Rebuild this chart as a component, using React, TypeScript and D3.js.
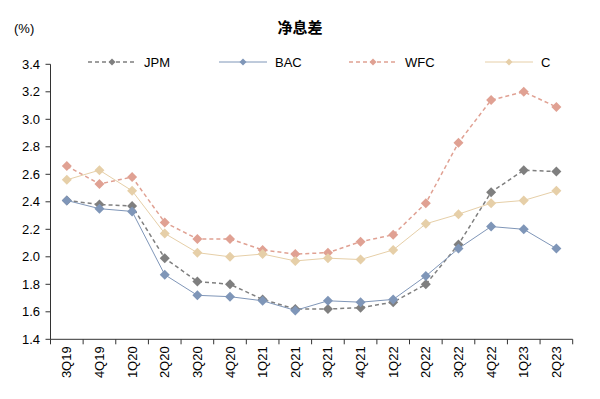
import React from "react";
import * as d3 from "d3";

const categories = ["3Q19","4Q19","1Q20","2Q20","3Q20","4Q20","1Q21","2Q21","3Q21","4Q21","1Q22","2Q22","3Q22","4Q22","1Q23","2Q23"];
const jpm = [2.41,2.38,2.37,1.99,1.82,1.80,1.69,1.62,1.62,1.63,1.67,1.80,2.09,2.47,2.63,2.62];
const bac = [2.41,2.35,2.33,1.87,1.72,1.71,1.68,1.61,1.68,1.67,1.69,1.86,2.06,2.22,2.20,2.06];
const wfc = [2.66,2.53,2.58,2.25,2.13,2.13,2.05,2.02,2.03,2.11,2.16,2.39,2.83,3.14,3.20,3.09];
const citi = [2.56,2.63,2.48,2.17,2.03,2.00,2.02,1.97,1.99,1.98,2.05,2.24,2.31,2.39,2.41,2.48];
const yTicks = [1.4,1.6,1.8,2.0,2.2,2.4,2.6,2.8,3.0,3.2,3.4];

const series = [
  { name: "JPM", values: jpm, color: "#7f7f7f", dash: "4,3", width: 1.5 },
  { name: "BAC", values: bac, color: "#7f96b8", dash: null, width: 1 },
  { name: "WFC", values: wfc, color: "#e0a193", dash: "4,3", width: 1.5 },
  { name: "C", values: citi, color: "#e6cfa8", dash: null, width: 1 },
];
const legendX = [88, 219, 349, 485];

const W = 600, H = 399;
const left = 50.5, right = 572.7, top = 64.3, bottom = 339.3;

export default function App() {
  const x = d3.scaleBand().domain(categories).range([left, right]);
  const y = d3.scaleLinear().domain([1.4, 3.4]).range([bottom, top]);
  const font = "'Liberation Sans', Arial, sans-serif";
  const line = d3.line<number>().x((_, i) => x(categories[i])! + x.bandwidth() / 2).y(d => y(d));
  const diamond = (cx: number, cy: number, r = 5) => `M${cx},${cy - r}L${cx + r},${cy}L${cx},${cy + r}L${cx - r},${cy}Z`;
  const boundaries = categories.map(c => x(c)!).concat([right]);
  return (
    <svg width={W} height={H} style={{ position: "absolute", left: 0, top: 0 }} fontFamily={font}>
      <rect width={W} height={H} fill="#fff" />
      <text x={300} y={33} textAnchor="middle" fontSize={15} fontWeight="bold" fontFamily="'Noto Sans CJK SC', sans-serif">净息差</text>
      <text x={14} y={33} fontSize={13}>(%)</text>
      {/* y axis */}
      <line x1={left} x2={left} y1={top} y2={bottom} stroke="#333" />
      {yTicks.map(t => (
        <g key={t}>
          <line x1={left - 5} x2={left} y1={y(t)} y2={y(t)} stroke="#333" />
          <text x={40} y={y(t)} dy="0.35em" textAnchor="end" fontSize={13}>{t.toFixed(1)}</text>
        </g>
      ))}
      {/* x axis */}
      <line x1={left} x2={right} y1={bottom} y2={bottom} stroke="#333" />
      {boundaries.map((b, i) => (
        <line key={i} x1={b} x2={b} y1={bottom} y2={bottom + 5} stroke="#333" />
      ))}
      {categories.map(c => {
        const cx = x(c)! + x.bandwidth() / 2;
        return (
          <text key={c} transform={`translate(${cx},${bottom + 7}) rotate(-90)`} textAnchor="end" dy="0.35em" fontSize={13}>{c}</text>
        );
      })}
      {series.map(s => (
        <g key={s.name}>
          <path d={line(s.values)!} fill="none" stroke={s.color} strokeWidth={s.width} strokeDasharray={s.dash ?? undefined} />
          {s.values.map((v, i) => (
            <path key={i} d={diamond(x(categories[i])! + x.bandwidth() / 2, y(v))} fill={s.color} />
          ))}
        </g>
      ))}
      {series.map((s, i) => (
        <g key={s.name} transform={`translate(${legendX[i]},62)`}>
          <line x1={0} x2={48} y1={0} y2={0} stroke={s.color} strokeWidth={s.width} strokeDasharray={s.dash ?? undefined} />
          <path d={diamond(24, 0, 3.5)} fill={s.color} />
          <text x={56} y={0} dy="0.35em" fontSize={13}>{s.name}</text>
        </g>
      ))}
    </svg>
  );
}
